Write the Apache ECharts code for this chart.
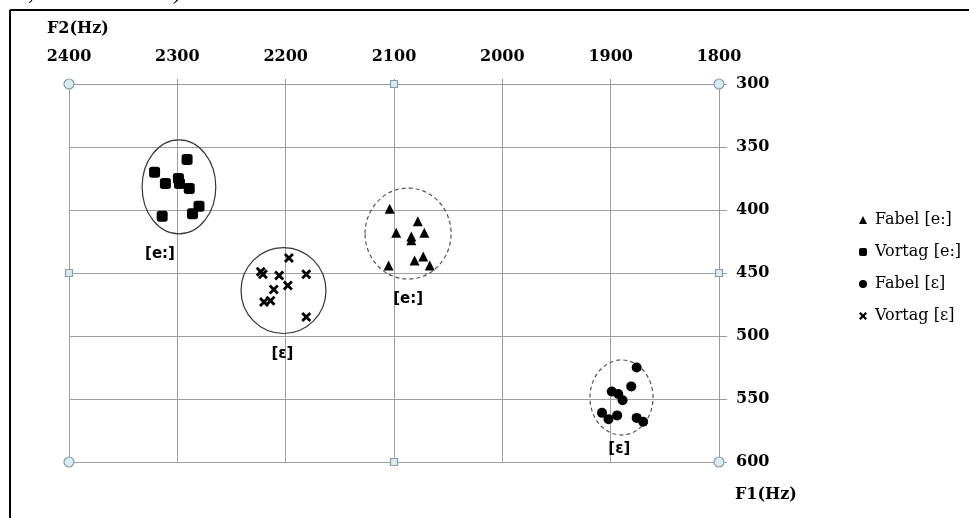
<!DOCTYPE html>
<html lang="de">
<head>
    <meta charset="UTF-8">
    <script type="text/javascript" src="https://cdn.jsdelivr.net/npm/echarts@6/dist/echarts.min.js"></script>
    <title>F1/F2</title>
    <style>
        html, body { margin: 0; padding: 0; background: #fff; }
        #main { width: 969px; height: 518px; }
    </style>
</head>
<body>
<div id="main"></div>
<script type="text/javascript">
    // Achsen (F2 horizontal, F1 vertikal)
    var f2Ticks = [2400, 2300, 2200, 2100, 2000, 1900, 1800];
    var f1Ticks = [300, 350, 400, 450, 500, 550, 600];

    // Messpunkte [F2, F1]
    var fabelE = [
        [2104, 399], [2078, 409], [2098, 418], [2072, 418], [2084, 421],
        [2084, 424], [2081, 440], [2073, 437], [2067, 444], [2105, 444]
    ];
    var vortagE = [
        [2291, 360], [2321, 370], [2311, 379], [2299, 375], [2298, 379],
        [2289, 383], [2280, 397], [2286, 403], [2314, 405]
    ];
    var fabelEps = [
        [1876, 525], [1881, 540], [1899, 544], [1893, 546], [1889, 551],
        [1908, 561], [1902, 566], [1894, 563], [1876, 565], [1870, 568]
    ];
    var vortagEps = [
        [2197, 438], [2223, 449], [2221, 451], [2206, 452], [2181, 451],
        [2198, 460], [2211, 463], [2220, 473], [2214, 472], [2181, 485]
    ];

    // Ellipsen um die Gruppen: [F2, F1, rF2, rF1, gestrichelt, labelF2, labelF1, label]
    var groups = [
        [2298.5, 381.7, 34, 37.3, 0, 2316, 435, '[e:]'],
        [2202, 463.9, 39.2, 34.1, 0, 2203, 514, '[ε]'],
        [2087, 418.7, 39.7, 36.1, 1, 2087, 471, '[e:]'],
        [1890, 548.8, 29.1, 29.8, 1, 1892, 590, '[ε]']
    ];

    // Markierungen der Diagrammauswahl (Ecken / Mitten)
    var handleCircles = [[2400, 300], [1800, 300], [2400, 600], [1800, 600]];
    var handleSquares = [[2100, 300], [2100, 600], [2400, 450], [1800, 450]];

    var crossPath = 'path://M0,2 L2,0 L5,3 L8,0 L10,2 L7,5 L10,8 L8,10 L5,7 L2,10 L0,8 L3,5 Z';
    var serif = '"DejaVu Serif", "Liberation Serif", serif';

    var chart = echarts.init(document.getElementById('main'));

    var option = {
        backgroundColor: '#fff',
        animation: false,
        grid: { left: 69, top: 84, right: 250, bottom: 56 },
        legend: {
            orient: 'vertical',
            left: 859,
            top: 212,
            padding: 0,
            itemWidth: 8,
            itemHeight: 8,
            itemGap: 16,
            data: ['Fabel [e:]', 'Vortag [e:]', 'Fabel [ε]', 'Vortag [ε]'],
            textStyle: { fontFamily: serif, fontSize: 16, color: '#000', padding: [0, 0, 0, 3] }
        },
        xAxis: {
            type: 'value',
            min: 1800,
            max: 2400,
            interval: 100,
            inverse: true,
            position: 'top',
            axisLine: { show: true, lineStyle: { color: '#999', width: 1 } },
            axisTick: { show: true, length: 5, lineStyle: { color: '#999' } },
            axisLabel: {
                margin: 19,
                fontFamily: serif, fontWeight: 'bold', fontSize: 16, color: '#000',
                formatter: function (v) { return f2Ticks.indexOf(v) >= 0 ? String(v) : ''; }
            },
            splitLine: { show: true, lineStyle: { color: '#a0a0a0', width: 1 } }
        },
        yAxis: {
            type: 'value',
            min: 300,
            max: 600,
            interval: 50,
            inverse: true,
            position: 'right',
            axisLine: { show: true, lineStyle: { color: '#999', width: 1 } },
            axisTick: { show: true, length: 8, lineStyle: { color: '#999' } },
            axisLabel: {
                margin: 17,
                fontFamily: serif, fontWeight: 'bold', fontSize: 16, color: '#000',
                formatter: function (v) { return f1Ticks.indexOf(v) >= 0 ? String(v) : ''; }
            },
            splitLine: { show: true, lineStyle: { color: '#a0a0a0', width: 1 } }
        },
        graphic: [
            { type: 'line', shape: { x1: 10, y1: 10, x2: 969, y2: 10 }, style: { stroke: '#000', lineWidth: 2 } },
            { type: 'line', shape: { x1: 10, y1: 10, x2: 10, y2: 518 }, style: { stroke: '#000', lineWidth: 2 } },
            { type: 'text', left: 0, top: -19, style: { text: 'Hz, F2 = 2200 Hz).', font: '24px "Liberation Serif", serif', fill: '#000' } },
            { type: 'text', left: 47, top: 21, style: { text: 'F2(Hz)', font: 'bold 16px ' + serif, fill: '#000' } },
            { type: 'text', left: 735, top: 487, style: { text: 'F1(Hz)', font: 'bold 16px ' + serif, fill: '#000' } }
        ],
        series: [
            {
                name: 'groups',
                type: 'custom',
                silent: true,
                z: 1,
                clip: false,
                data: groups,
                renderItem: function (params, api) {
                    var c = api.coord([api.value(0), api.value(1)]);
                    var s = api.size([api.value(2), api.value(3)], [api.value(0), api.value(1)]);
                    var lp = api.coord([api.value(5), api.value(6)]);
                    return {
                        type: 'group',
                        children: [{
                            type: 'ellipse',
                            shape: { cx: c[0], cy: c[1], rx: s[0], ry: s[1] },
                            style: {
                                fill: null,
                                stroke: api.value(4) ? '#555' : '#333',
                                lineWidth: 1.2,
                                lineDash: api.value(4) ? [4, 3] : null
                            }
                        }, {
                            type: 'text',
                            x: lp[0],
                            y: lp[1],
                            style: {
                                text: groups[params.dataIndex][7],
                                font: 'bold 15px "DejaVu Sans", sans-serif',
                                fill: '#000',
                                align: 'center',
                                verticalAlign: 'middle'
                            }
                        }]
                    };
                }
            },
            {
                name: 'Fabel [e:]', type: 'scatter', data: fabelE,
                symbol: 'triangle', symbolSize: 10, itemStyle: { color: '#000', opacity: 1 }, z: 3
            },
            {
                name: 'Vortag [e:]', type: 'scatter', data: vortagE,
                symbol: 'roundRect', symbolSize: 11, itemStyle: { color: '#000', opacity: 1 }, z: 3
            },
            {
                name: 'Fabel [ε]', type: 'scatter', data: fabelEps,
                symbol: 'circle', symbolSize: 10, itemStyle: { color: '#000', opacity: 1 }, z: 3
            },
            {
                name: 'Vortag [ε]', type: 'scatter', data: vortagEps,
                symbol: crossPath, symbolSize: 10, itemStyle: { color: '#000', opacity: 1 }, z: 3
            },
            {
                name: 'handles-c', type: 'scatter', data: handleCircles, silent: true, clip: false,
                symbol: 'circle', symbolSize: 10, z: 4,
                itemStyle: { color: '#d7ebf2', borderColor: '#8c9aa3', borderWidth: 1.2, opacity: 1 }
            },
            {
                name: 'handles-s', type: 'scatter', data: handleSquares, silent: true, clip: false,
                symbol: 'rect', symbolSize: 7, z: 4,
                itemStyle: { color: '#d7ebf2', borderColor: '#8c9aa3', borderWidth: 1.2, opacity: 1 }
            }
        ]
    };
    chart.setOption(option);
</script>
</body>
</html>
